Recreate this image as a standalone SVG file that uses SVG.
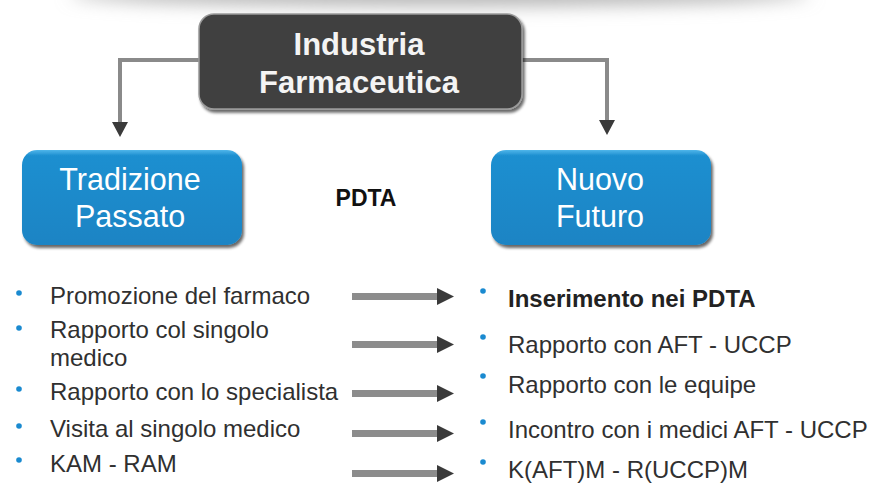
<svg xmlns="http://www.w3.org/2000/svg" width="869" height="484" viewBox="0 0 869 484">
<defs>
<filter id="blurTop" x="-20%" y="-200%" width="140%" height="500%">
<feGaussianBlur stdDeviation="9"/>
</filter>
<linearGradient id="blueFill" x1="0" y1="0" x2="0" y2="1">
<stop offset="0" stop-color="#4fb6ea"/>
<stop offset="0.06" stop-color="#1e8fd0"/>
<stop offset="1" stop-color="#1a84c4"/>
</linearGradient>
<filter id="shadow" x="-10%" y="-10%" width="130%" height="140%">
<feGaussianBlur in="SourceAlpha" stdDeviation="1.5"/>
<feOffset dx="2" dy="3" result="b"/>
<feComponentTransfer><feFuncA type="linear" slope="0.6"/></feComponentTransfer>
<feMerge><feMergeNode/><feMergeNode in="SourceGraphic"/></feMerge>
</filter>
</defs>
<style>
.title{font-family:"Liberation Sans",Arial,sans-serif;font-weight:bold;font-size:31px;fill:#f4f4f4;text-anchor:middle}
.boxtxt{font-family:"Liberation Sans",Arial,sans-serif;font-size:30.5px;fill:#ffffff;text-anchor:middle}
.item{font-family:"Liberation Sans",Arial,sans-serif;font-size:24px;fill:#303030}
.bold{font-weight:bold;fill:#222}
.bullet{fill:#1a8ad0}
.conn{fill:none;stroke:#8a8a8a;stroke-width:4}
.bar{fill:#8c8c8c}
.head{fill:#3a3a3a}
</style>
<rect x="0" y="0" width="869" height="484" fill="#ffffff"/>
<ellipse cx="440" cy="-6" rx="370" ry="12" fill="#b4b4b4" filter="url(#blurTop)"/>

<g id="connectors">
<path class="conn" d="M200,60 L120,60 L120,124"/>
<path class="head" d="M112,122 L128,122 L120,137 Z"/>
<path class="conn" d="M522,60 L607,60 L607,122"/>
<path class="head" d="M599,120 L615,120 L607,135 Z"/>
<g id="arrow1"><rect class="bar" x="352" y="293" width="86" height="7"/><path class="head" d="M437,288 L454,296.5 L437,305 Z"/></g>
<g id="arrow2"><rect class="bar" x="352" y="341" width="86" height="7"/><path class="head" d="M437,336 L454,344.5 L437,353 Z"/></g>
<g id="arrow3"><rect class="bar" x="352" y="390" width="86" height="7"/><path class="head" d="M437,385 L454,393.5 L437,402 Z"/></g>
<g id="arrow4"><rect class="bar" x="352" y="430" width="86" height="7"/><path class="head" d="M437,425 L454,433.5 L437,442 Z"/></g>
<g id="arrow5"><rect class="bar" x="352" y="470" width="86" height="7"/><path class="head" d="M437,465 L454,473.5 L437,482 Z"/></g>
</g>

<g id="industria">
<rect x="199" y="14" width="323" height="95" rx="15" fill="#414141" stroke="#9a9a9a" stroke-width="1.5" filter="url(#shadow)"/>
<text class="title" x="359" y="55">Industria</text>
<text class="title" x="359" y="93">Farmaceutica</text>
</g>

<g id="tradizione">
<rect x="22" y="150" width="220" height="95" rx="15" fill="url(#blueFill)" filter="url(#shadow)"/>
<text class="boxtxt" x="130" y="190">Tradizione</text>
<text class="boxtxt" x="130" y="227">Passato</text>
</g>

<g id="nuovo">
<rect x="491" y="150" width="220" height="95" rx="15" fill="url(#blueFill)" filter="url(#shadow)"/>
<text class="boxtxt" x="600" y="190">Nuovo</text>
<text class="boxtxt" x="600" y="227">Futuro</text>
</g>

<g id="pdta">
<text x="366" y="206" font-family="'Liberation Sans',Arial,sans-serif" font-weight="bold" font-size="23" fill="#111" text-anchor="middle">PDTA</text>
</g>

<g id="left-list">
<circle class="bullet" cx="19" cy="293" r="2.8"/>
<text class="item" x="50" y="304">Promozione del farmaco</text>
<circle class="bullet" cx="19" cy="328" r="2.8"/>
<text class="item" x="50" y="338">Rapporto col singolo</text>
<text class="item" x="50" y="366">medico</text>
<circle class="bullet" cx="19" cy="389" r="2.8"/>
<text class="item" x="50" y="400">Rapporto con lo specialista</text>
<circle class="bullet" cx="19" cy="426" r="2.8"/>
<text class="item" x="50" y="437">Visita al singolo medico</text>
<circle class="bullet" cx="19" cy="460" r="2.8"/>
<text class="item" x="50" y="472">KAM - RAM</text>
</g>

<g id="right-list">
<circle class="bullet" cx="483" cy="291" r="2.8"/>
<text class="item bold" x="508" y="307">Inserimento nei PDTA</text>
<circle class="bullet" cx="483" cy="337" r="2.8"/>
<text class="item" x="508" y="353">Rapporto con AFT - UCCP</text>
<circle class="bullet" cx="483" cy="376" r="2.8"/>
<text class="item" x="508" y="393">Rapporto con le equipe</text>
<circle class="bullet" cx="483" cy="422" r="2.8"/>
<text class="item" x="508" y="438">Incontro con i medici AFT - UCCP</text>
<circle class="bullet" cx="483" cy="462" r="2.8"/>
<text class="item" x="508" y="478">K(AFT)M - R(UCCP)M</text>
</g>
</svg>
